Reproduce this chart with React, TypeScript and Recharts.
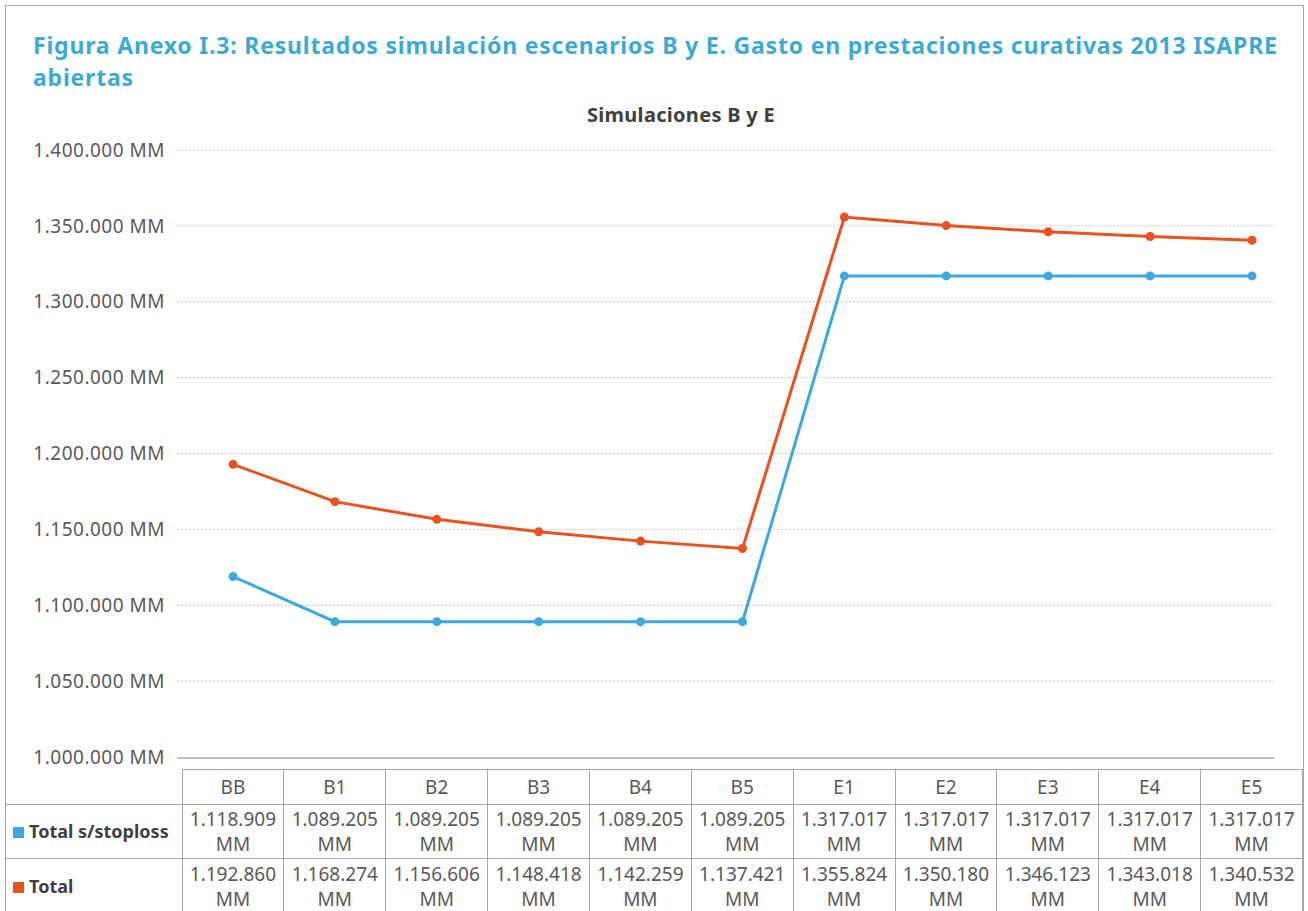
import { LineChart, Line, XAxis, YAxis, CartesianGrid } from 'recharts';

const categories = ['BB', 'B1', 'B2', 'B3', 'B4', 'B5', 'E1', 'E2', 'E3', 'E4', 'E5'];
const totalSinStoploss = [1118909, 1089205, 1089205, 1089205, 1089205, 1089205, 1317017, 1317017, 1317017, 1317017, 1317017];
const totalConStoploss = [1192860, 1168274, 1156606, 1148418, 1142259, 1137421, 1355824, 1350180, 1346123, 1343018, 1340532];
const yTicks = [1000000, 1050000, 1100000, 1150000, 1200000, 1250000, 1300000, 1350000, 1400000];

const seriesInfo = [
  { key: 'sinStop', name: 'Total s/stoploss', color: '#3BA9DF', values: totalSinStoploss },
  { key: 'total', name: 'Total', color: '#E9511F', values: totalConStoploss },
];

const data = categories.map((c, i) => ({ cat: c, sinStop: totalSinStoploss[i], total: totalConStoploss[i] }));

const fmt = (v: number) => String(v).replace(/\B(?=(\d{3})+(?!\d))/g, '.');

const FONT = '"Noto Sans", sans-serif';
const TXT = '#595959';
const BORDER = '#A6A6A6';

function GridLine(props: any) {
  const { x1, x2, y1, y, height } = props;
  const isBottom = y != null && height != null ? Math.abs(y1 - (y + height)) < 1 : props.index === 0;
  if (isBottom) {
    return <line x1={x1 - 5} x2={x2 - 29} y1={y1 + 1} y2={y1 + 1} stroke="#BFBFBF" strokeWidth={2} />;
  }
  return <line x1={x1 - 5} x2={x2 - 29} y1={y1} y2={y1} stroke="#C4C4C4" strokeWidth={1} strokeDasharray="2 2" />;
}

const cellBase: React.CSSProperties = {
  border: `1px solid ${BORDER}`,
  textAlign: 'center',
  verticalAlign: 'middle',
  padding: 0,
  color: TXT,
  fontSize: 19,
  lineHeight: '25px',
};

export default function App() {
  return (
    <div style={{ position: 'absolute', left: 0, top: 0, width: 1308, height: 911, overflow: 'hidden', background: '#fff', fontFamily: FONT }}>
      <div style={{ position: 'absolute', left: 5, top: 5, width: 1297, height: 906, borderTop: `1px solid ${BORDER}`, borderLeft: `1px solid ${BORDER}`, borderRight: `1px solid ${BORDER}` }} />
      <div style={{ position: 'absolute', left: 33, top: 30, color: '#3DA9D7', fontWeight: 700, fontSize: 23, letterSpacing: 0.8, lineHeight: '31.5px', whiteSpace: 'nowrap' }}>
        <div>Figura Anexo I.3: Resultados simulación escenarios B y E. Gasto en prestaciones curativas 2013 ISAPRE</div>
        <div>abiertas</div>
      </div>
      <div style={{ position: 'absolute', left: 481, width: 400, top: 101, textAlign: 'center', color: '#404040', fontWeight: 700, fontSize: 20, letterSpacing: 0.3 }}>
        Simulaciones B y E
      </div>
      <div style={{ position: 'absolute', left: 0, top: 0 }}>
        <LineChart width={1308} height={770} data={data} margin={{ top: 150, right: 5, left: 0, bottom: 13 }}>
          <CartesianGrid vertical={false} horizontal={(p: any) => <GridLine key={p.key} {...p} />} />
          <XAxis dataKey="cat" hide padding={{ left: 51, right: 51 }} />
          <YAxis
            width={182}
            domain={[1000000, 1400000]}
            ticks={yTicks}
            tickFormatter={(v: number) => `${fmt(v)} MM`}
            axisLine={false}
            tickLine={false}
            tickSize={0}
            tickMargin={17}
            tick={{ fontFamily: FONT, fontSize: 19, fill: TXT, letterSpacing: 0.5 }}
          />
          {seriesInfo.map(s => (
            <Line
              key={s.key}
              type="linear"
              dataKey={s.key}
              name={s.name}
              stroke={s.color}
              strokeWidth={3}
              dot={{ r: 4.5, fill: s.color, stroke: s.color, strokeWidth: 0 }}
              isAnimationActive={false}
            />
          ))}
        </LineChart>
      </div>
      <table style={{ position: 'absolute', left: 6, top: 769, width: 1297, borderCollapse: 'collapse', tableLayout: 'fixed', fontFamily: FONT }}>
        <colgroup>
          <col style={{ width: 176 }} />
          {categories.map(c => <col key={c} />)}
        </colgroup>
        <tbody>
          <tr style={{ height: 35 }}>
            <td style={{ ...cellBase, borderTop: 'none', borderLeft: 'none' }} />
            {categories.map(c => (
              <td key={c} style={cellBase}>{c}</td>
            ))}
          </tr>
          {seriesInfo.map((s, ri) => (
            <tr key={s.key} style={{ height: ri === 0 ? 54 : 56 }}>
              <td style={{ ...cellBase, borderLeft: 'none', textAlign: 'left', color: '#404040', fontWeight: 700, fontSize: 18, whiteSpace: 'nowrap' }}>
                <span style={{ display: 'inline-block', width: 11, height: 11, background: s.color, marginLeft: 7, marginRight: 5 }} />
                {s.name}
              </td>
              {s.values.map((v, i) => (
                <td key={i} style={cellBase}>
                  {fmt(v)}
                  <br />
                  MM
                </td>
              ))}
            </tr>
          ))}
        </tbody>
      </table>
    </div>
  );
}
